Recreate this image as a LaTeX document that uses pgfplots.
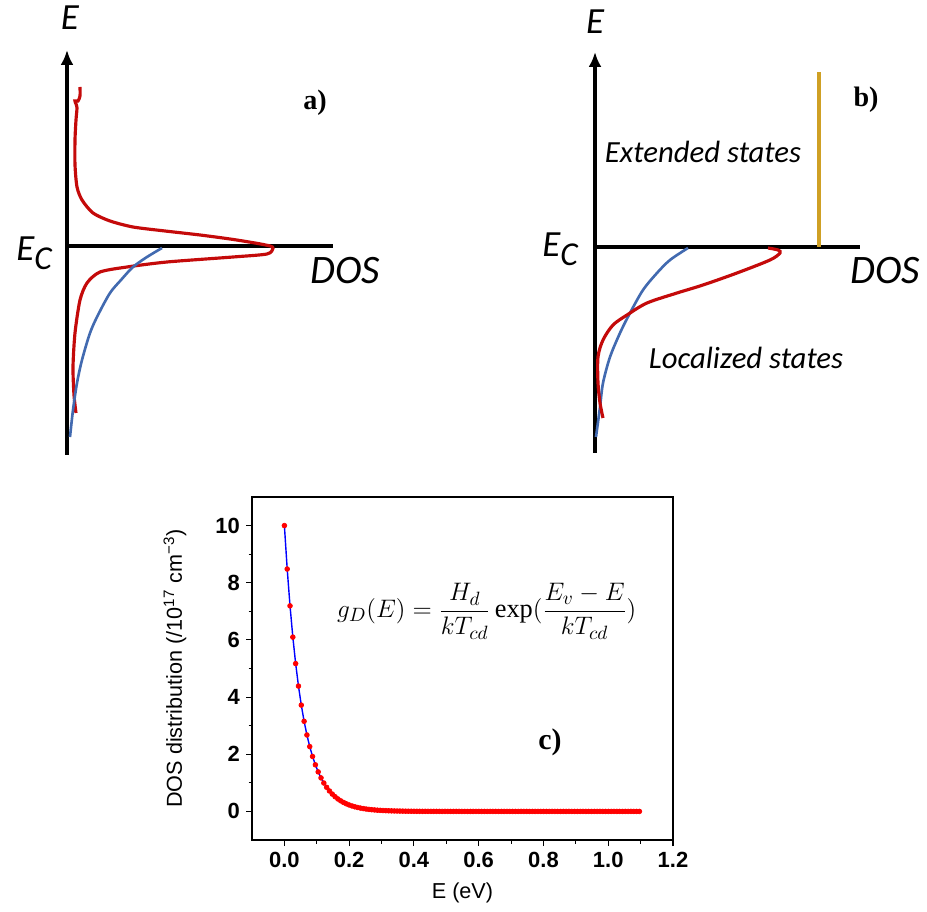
\documentclass[border=0pt]{standalone}
\usepackage{fontspec}
\setmainfont{Liberation Sans}
\newfontfamily\carlito{Carlito}
\newfontfamily\tnr{Liberation Serif}
\usepackage{amsmath}
\usepackage{pgfplots}
\pgfplotsset{compat=1.18}
\usepackage{pgfplotstable}
\usetikzlibrary{arrows.meta}

\definecolor{dosred}{RGB}{196,10,10}
\definecolor{dosblue}{RGB}{66,106,176}
\definecolor{gold}{RGB}{207,160,36}

% panel c: computed DOS tail
\pgfplotstableread{
x y
0 10.000
0.0087 8.480
0.0174 7.191
0.0261 6.098
0.0348 5.171
0.0435 4.385
0.0522 3.719
0.0609 3.153
0.0696 2.674
0.0783 2.268
0.0870 1.923
0.0957 1.631
0.1044 1.383
0.1131 1.173
0.1218 0.994
0.1305 0.843
0.1392 0.715
0.1479 0.606
0.1566 0.514
0.1653 0.436
0.1740 0.370
0.1827 0.314
0.1914 0.266
0.2001 0.225
0.2088 0.191
0.2175 0.162
0.2262 0.138
0.2349 0.117
0.2436 0.099
0.2523 0.084
0.2610 0.071
0.2697 0.060
0.2784 0.051
0.2871 0.043
0.2958 0.037
0.3045 0.031
0.3132 0.027
0.3219 0.022
0.3306 0.019
0.3393 0.016
0.3480 0.014
0.3567 0.012
0.3654 0.010
0.3741 0.008
0.3828 0.007
0.3915 0.006
0.4002 0.005
0.4089 0.004
0.4176 0.004
0.4263 0.003
0.4350 0.003
0.4437 0.002
0.4524 0.002
0.4611 0.002
0.4698 0.002
0.4785 0.002
0.4872 0.001
0.4959 0.001
0.5046 0.001
0.5133 0.001
0.5220 0.001
0.5307 0.001
0.5394 0.001
0.5481 0
0.5568 0
0.5655 0
0.5742 0
0.5829 0
0.5916 0
0.6003 0
0.6090 0
0.6177 0
0.6264 0
0.6351 0
0.6438 0
0.6525 0
0.6612 0
0.6699 0
0.6786 0
0.6873 0
0.6960 0
0.7047 0
0.7134 0
0.7221 0
0.7308 0
0.7395 0
0.7482 0
0.7569 0
0.7656 0
0.7743 0
0.7830 0
0.7917 0
0.8004 0
0.8091 0
0.8178 0
0.8265 0
0.8352 0
0.8439 0
0.8526 0
0.8613 0
0.8700 0
0.8787 0
0.8874 0
0.8961 0
0.9048 0
0.9135 0
0.9222 0
0.9309 0
0.9396 0
0.9483 0
0.9570 0
0.9657 0
0.9744 0
0.9831 0
0.9918 0
1.0005 0
1.0092 0
1.0179 0
1.0266 0
1.0353 0
1.0440 0
1.0527 0
1.0614 0
1.0701 0
1.0788 0
1.0875 0
1.0962 0
}\dostail

\pgfplotsset{
  sketch/.style={
    scale only axis, clip=false, enlargelimits=false,
    axis lines=middle, ticks=none,
    axis line style={line width=2.3pt},
    x axis line style={-},
    y axis line style={-{Latex[length=0.3cm,width=0.26cm]}},
  },
}
\tikzset{
  lbl/.style={font=\carlito\itshape\fontsize{17.5}{20}\selectfont},
  elbl/.style={font=\carlito\itshape\fontsize{21}{24}\selectfont},
}
\newcommand{\EC}{E\raisebox{-0.5ex}{\fontsize{19}{22}\selectfont C}}

\begin{document}
\begin{tikzpicture}
\useasboundingbox (0,0) rectangle (18.54,18.22);

% ---- a) ----
\begin{axis}[sketch, at={(1.34cm,9.12cm)}, anchor=south west,
  width=5.32cm, height=8.1cm,
  xmin=0, xmax=13.3, ymin=-10.45, ymax=9.8]
\addplot[dosred, line width=1.8pt, smooth, tension=0.45] coordinates {
 (0.65,7.95) (0.65,7.5) (0.55,7.25) (0.4,7.25) (0.45,7.1) (0.5,6.9)
 (0.45,6.3) (0.4,5.3) (0.4,4.05) (0.5,2.95) (0.75,2.3) (1.3,1.65)
 (2.15,1.25) (3.3,0.95) (4.9,0.75) (6.65,0.55) (8.15,0.35) (9.4,0.15)
 (10.15,0) (10.3,-0.12) (10.0,-0.4) (8.3,-0.55) (5.0,-0.8) (3.0,-1.05)
 (1.65,-1.3) (1.0,-1.85) (0.65,-2.7) (0.4,-4.35) (0.3,-6.05)
 (0.35,-7.45) (0.45,-8.35)};
\addplot[dosblue, line width=1.5pt, smooth] coordinates {
 (4.75,-0.1) (4.0,-0.55) (3.3,-1.05) (2.7,-1.7) (2.15,-2.35) (1.55,-3.45)
 (1.15,-4.35) (0.75,-5.7) (0.5,-6.85) (0.3,-8.2) (0.15,-9.55)};
\node[elbl] at (axis cs:0.15,11.4) {E};
\node[elbl] at (axis cs:-1.65,-0.35) {\EC};
\node[font=\carlito\itshape\fontsize{23}{26}\selectfont] at (axis cs:13.9,-1.25) {DOS};
\node[font=\tnr\bfseries\fontsize{16}{19}\selectfont] at (axis cs:12.4,7.15) {a)};
\end{axis}

% ---- b) ----
\begin{axis}[sketch, at={(11.9cm,9.16cm)}, anchor=south west,
  width=5.3cm, height=8.02cm,
  xmin=0, xmax=13.25, ymin=-10.3, ymax=9.75]
\addplot[gold, line width=2pt] coordinates {(11.2,0) (11.2,8.75)};
\addplot[dosblue, line width=1.5pt, smooth] coordinates {
 (4.65,-0.05) (3.75,-0.65) (3.1,-1.3) (2.4,-2.15) (1.75,-3.3) (1.25,-4.3)
 (0.75,-5.5) (0.4,-6.8) (0.25,-8.0) (0.05,-9.5)};
\addplot[dosred, line width=1.8pt, smooth, tension=0.5] coordinates {
 (8.65,-0.05) (9.15,-0.15) (9.25,-0.3) (8.75,-0.65) (7.1,-1.3) (5.4,-1.9)
 (4.1,-2.3) (2.6,-2.8) (1.6,-3.4) (0.9,-3.9) (0.4,-4.65) (0.15,-5.5)
 (0.15,-6.8) (0.25,-7.8) (0.4,-8.55)};
\node[elbl] at (axis cs:0,11.25) {E};
\node[elbl] at (axis cs:-1.75,-0.1) {\EC};
\node[font=\carlito\itshape\fontsize{23}{26}\selectfont] at (axis cs:14.5,-1.2) {DOS};
\node[font=\tnr\bfseries\fontsize{16}{19}\selectfont] at (axis cs:13.55,7.35) {b)};
\node[lbl] at (axis cs:5.4,4.75) {Extended states};
\node[lbl] at (axis cs:7.55,-5.55) {Localized states};
\end{axis}

% ---- c) ----
\begin{axis}[at={(5.04cm,1.42cm)}, anchor=south west, scale only axis,
  width=8.42cm, height=6.86cm,
  xmin=-0.1, xmax=1.2, ymin=-1, ymax=11,
  xtick={0,0.2,...,1.2}, ytick={0,2,...,10},
  minor x tick num=1, minor y tick num=1,
  tick pos=left, tick align=outside,
  major tick length=0.12cm, minor tick length=0.07cm,
  axis line style={line width=0.6pt}, tick style={line width=0.6pt, black},
  xticklabel style={/pgf/number format/.cd, fixed, fixed zerofill, precision=1},
  /pgf/number format/assume math mode=true,
  ticklabel style={font=\bfseries\fontsize{12.5}{14}\selectfont},
  xlabel={E (eV)}, ylabel={DOS distribution (/10\textsuperscript{17} cm\textsuperscript{−3})},
  label style={font=\fontsize{12.3}{14}\selectfont},
  xlabel style={at={(axis description cs:0.5,-0.155)}, anchor=center},
  ylabel style={at={(axis description cs:-0.183,0.5)}, anchor=center},
]
\addplot[blue, line width=0.8pt] table[x=x, y=y] {\dostail};
\addplot[only marks, mark=*, mark size=1.35pt, red, mark options={draw=red, fill=red}] table[x=x, y=y] {\dostail};
\node at (axis cs:0.625,7.0) {\fontsize{15}{18}\selectfont $\displaystyle g_{D}(E)=\frac{H_{d}}{kT_{cd}}\,\mbox{\tnr exp}(\frac{E_{v}-E}{kT_{cd}})$};
\node[font=\tnr\bfseries\fontsize{17}{20}\selectfont] at (axis cs:0.82,2.4) {c)};
\end{axis}
\end{tikzpicture}
\end{document}
